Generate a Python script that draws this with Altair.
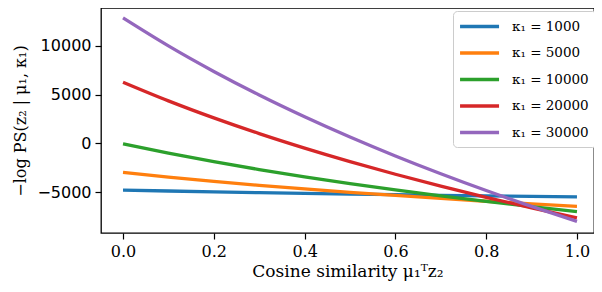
import altair as alt
import pandas as pd

x_vals = [0.0, 0.1, 0.2, 0.3, 0.4, 0.5, 0.6, 0.7, 0.8, 0.9, 1.0]
series_labels = ["κ₁ = 1000", "κ₁ = 5000", "κ₁ = 10000", "κ₁ = 20000", "κ₁ = 30000"]
colors = ["#1f77b4", "#ff7f0e", "#2ca02c", "#d62728", "#9467bd"]

k1000 = [-4760, -4855, -4942, -5022, -5097, -5166, -5230, -5291, -5348, -5402, -5453]
k5000 = [-2960, -3437, -3872, -4272, -4643, -4987, -5310, -5613, -5899, -6170, -6426]
k10000 = [-40, -993, -1863, -2664, -3405, -4095, -4740, -5346, -5918, -6459, -6971]
k20000 = [6260, 4354, 2614, 1012, -470, -1850, -3140, -4352, -5496, -6578, -7602]
k30000 = [12830, 9971, 7361, 4958, 2735, 665, -1270, -3088, -4804, -6427, -7963]

rows = []
for lab, ys in zip(series_labels, [k1000, k5000, k10000, k20000, k30000]):
    for xv, yv in zip(x_vals, ys):
        rows.append({"x": xv, "y": yv, "series": lab})
df = pd.DataFrame(rows)

chart = alt.Chart(df).mark_line(strokeWidth=3.3, interpolate="monotone").encode(
    x=alt.X("x:Q", scale=alt.Scale(domain=[-0.0485, 1.0375], nice=False, zero=False),
            axis=alt.Axis(title="Cosine similarity μ₁ᵀz₂", values=[0, 0.2, 0.4, 0.6, 0.8, 1.0],
                          format=".1f", labelFont="DejaVu Serif", labelFontSize=16,
                          titleFont="DejaVu Serif", titleFontSize=17, titleFontWeight="normal",
                          labelColor="black", titleColor="black", tickColor="black",
                          domain=False, grid=False, tickSize=6, tickWidth=1.2, labelPadding=4,
                          titlePadding=4)),
    y=alt.Y("y:Q", scale=alt.Scale(domain=[-9145, 13845], nice=False, zero=False),
            axis=alt.Axis(title="−log PS(z₂ | μ₁, κ₁)", values=[-5000, 0, 5000, 10000],
                          format="d", labelFont="DejaVu Sans", labelFontSize=16,
                          titleFont="DejaVu Serif", titleFontSize=16, titleFontWeight="normal",
                          labelColor="black", titleColor="black", tickColor="black",
                          domain=False, grid=False, tickSize=6, tickWidth=1.2, labelPadding=4,
                          titlePadding=8)),
    color=alt.Color("series:N", sort=series_labels,
                    scale=alt.Scale(domain=series_labels, range=colors),
                    legend=alt.Legend(title=None, orient="none", legendX=352, legendY=3,
                                      symbolType="M-1.3,0H4.7", symbolSize=169, symbolStrokeWidth=3.5,
                                      labelOffset=35, labelFont="DejaVu Serif", labelFontSize=13.5,
                                      labelColor="black", rowPadding=10.5, padding=7,
                                      strokeColor="#cccccc", fillColor="white", cornerRadius=4)),
).properties(
    width=493, height=225,
    autosize=alt.AutoSizeParams(type="none"),
    padding={"left": 93, "top": 0, "right": 0, "bottom": 51},
).configure_view(stroke="black", strokeWidth=1.3)

chart.save("out.html", embed_options={"renderer": "svg", "actions": False})
